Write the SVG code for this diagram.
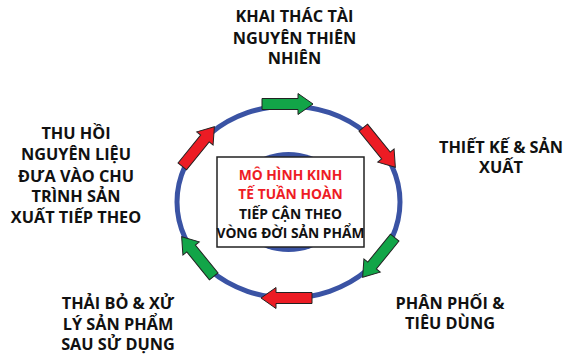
<svg xmlns="http://www.w3.org/2000/svg" width="568" height="356" viewBox="0 0 568 356">
<defs>
<style>
.lbl{font-family:"Open Sans","Liberation Sans",sans-serif;font-weight:bold;font-size:16.3px;fill:#111;text-anchor:middle}
.ctr{font-family:"Open Sans","Liberation Sans",sans-serif;font-weight:bold;font-size:13.8px;text-anchor:middle}
.red{fill:#ee1c25}
.blk{fill:#111}
.ag{fill:#12a548;stroke:#222;stroke-width:1}
.ar{fill:#ec1c24;stroke:#222;stroke-width:1}
</style>
<path id="arr" d="M-25,-5.5 H11 V-10.5 L26,0 L11,10.5 V5.5 H-25 Z"/>
</defs>
<rect width="568" height="356" fill="#fff"/>
<g id="cycle">
<ellipse cx="288.5" cy="202" rx="111.5" ry="96" fill="none" stroke="#3a53a4" stroke-width="5"/>
<ellipse cx="288.5" cy="202" rx="57" ry="50" fill="#3a53a4"/>
</g>
<g id="connectors">
<use href="#arr" class="ag" transform="translate(287,104)"/>
<use href="#arr" class="ar" transform="translate(379,147) rotate(51)"/>
<use href="#arr" class="ag" transform="translate(379,257) rotate(129)"/>
<use href="#arr" class="ar" transform="translate(287,298) rotate(180)"/>
<use href="#arr" class="ag" transform="translate(198,257) rotate(-129)"/>
<use href="#arr" class="ar" transform="translate(198,147) rotate(-51)"/>
</g>
<g id="center">
<rect x="217" y="157" width="147" height="90" fill="#fff" stroke="#222" stroke-width="1.5"/>
<text class="ctr red" x="290.5" y="180">MÔ HÌNH KINH</text>
<text class="ctr red" x="290.5" y="199">TẾ TUẦN HOÀN</text>
<text class="ctr blk" x="290.5" y="219">TIẾP CẬN THEO</text>
<text class="ctr blk" x="290.5" y="238">VÒNG ĐỜI SẢN PHẨM</text>
</g>
<g id="n-khai-thac">
<text class="lbl" x="294.5" y="22">KHAI THÁC TÀI</text>
<text class="lbl" x="294.5" y="44">NGUYÊN THIÊN</text>
<text class="lbl" x="294.5" y="64">NHIÊN</text>
</g>
<g id="n-thiet-ke">
<text class="lbl" x="501" y="153">THIẾT KẾ &amp; SẢN</text>
<text class="lbl" x="501" y="173">XUẤT</text>
</g>
<g id="n-phan-phoi">
<text class="lbl" x="450" y="309">PHÂN PHỐI &amp;</text>
<text class="lbl" x="450" y="329">TIÊU DÙNG</text>
</g>
<g id="n-thai-bo">
<text class="lbl" x="118" y="309">THẢI BỎ &amp; XỬ</text>
<text class="lbl" x="118" y="330">LÝ SẢN PHẨM</text>
<text class="lbl" x="118" y="350">SAU SỬ DỤNG</text>
</g>
<g id="n-thu-hoi">
<text class="lbl" x="76" y="139">THU HỒI</text>
<text class="lbl" x="76" y="160">NGUYÊN LIỆU</text>
<text class="lbl" x="76" y="182">ĐƯA VÀO CHU</text>
<text class="lbl" x="76" y="202">TRÌNH SẢN</text>
<text class="lbl" x="76" y="223">XUẤT TIẾP THEO</text>
</g>
</svg>
